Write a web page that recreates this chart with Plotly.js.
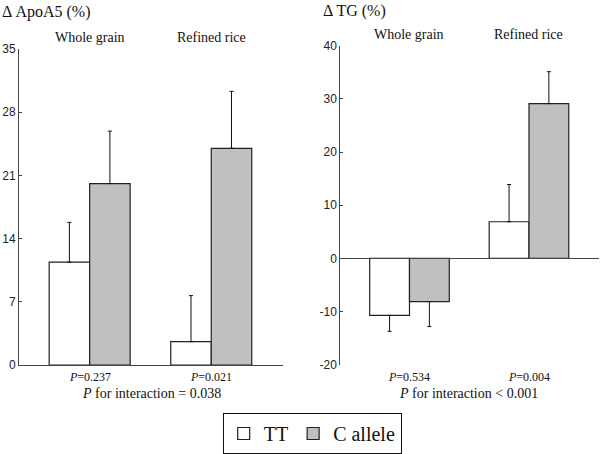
<!DOCTYPE html>
<html>
<head>
<meta charset="utf-8">
<script src="https://cdn.plot.ly/plotly-3.0.1.min.js"></script>
<style>
body { margin: 0; }
.fontwarm { position: absolute; left: -2000px; top: 0; font-size: 14px; }
</style>
</head>
<body>
<span class="fontwarm" style="font-family:'Liberation Serif'">Whole grain <i>P</i> Δ</span>
<span class="fontwarm" style="font-family:'Liberation Sans'">0123456789-</span>
<div id="chart"></div>
<script>
// ---- data ----
var groups = ["Whole grain", "Refined rice"];
var seriesNames = ["TT", "C allele"];
var apoTT = [11.4, 2.6];
var apoTTse = [4.4, 5.1];
var apoC = [20.1, 24.0];
var apoCse = [5.8, 6.3];
var tgTT = [-10.7, 6.9];
var tgTTse = [3.0, 7.0];
var tgC = [-8.1, 29.1];
var tgCse = [4.7, 6.0];
var apoP = ["<i>P</i>=0.237", "<i>P</i>=0.021"];
var tgP = ["<i>P</i>=0.534", "<i>P</i>=0.004"];
var apoInteraction = "<i>P</i> for interaction = 0.038";
var tgInteraction = "<i>P</i> for interaction < 0.001";
var apoTicks = [0, 7, 14, 21, 28, 35];
var tgTicks = [-20, -10, 0, 10, 20, 30, 40];

var FONT_TEXT = "Liberation Serif";
var FONT_TICK = "Liberation Sans";
var fills = ["#ffffff", "#c0c0c0"];

function errUp(vals, se) { return vals.map(function (v, i) { return v >= 0 ? se[i] : 0; }); }
function errDown(vals, se) { return vals.map(function (v, i) { return v < 0 ? se[i] : 0; }); }

function barTrace(vals, se, idx, xa, ya, showLegend) {
  return {
    type: "bar", x: groups, y: vals, name: seriesNames[idx],
    xaxis: xa, yaxis: ya, showlegend: showLegend,
    marker: { color: fills[idx], line: { color: "#222", width: 1.2 } },
    error_y: { type: "data", symmetric: false, array: errUp(vals, se), arrayminus: errDown(vals, se),
      color: "#111", thickness: 1, width: 2 },
    hoverinfo: "skip"
  };
}

var data = [
  barTrace(apoTT, apoTTse, 0, "x", "y", true),
  barTrace(apoC, apoCse, 1, "x", "y", true),
  barTrace(tgTT, tgTTse, 0, "x2", "y2", false),
  barTrace(tgC, tgCse, 1, "x2", "y2", false)
];

var axisCommon = { showgrid: false, zeroline: false, showline: true, linecolor: "#444", linewidth: 1 };

var annotations = [];
function addText(text, xref, x, y, size, xanchor) {
  annotations.push({ text: text, xref: xref, yref: "paper", x: x, y: y, showarrow: false,
    xanchor: xanchor || "center", yanchor: "middle", font: { family: FONT_TEXT, size: size, color: "#111" } });
}
addText("Δ ApoA5 (%)", "paper", 0.0, 1 - 12 / 454, 16, "left");
addText("Δ TG (%)", "paper", 320.5 / 600, 1 - 11 / 454, 16, "left");
groups.forEach(function (g, i) {
  addText(g, "x", g, 1 - 38 / 454, 14);
  addText(g, "x2", g, 1 - 35 / 454, 14);
  addText(apoP[i], "x", g, 1 - 378 / 454, 12);
  addText(tgP[i], "x2", g, 1 - 378 / 454, 12);
});
addText(apoInteraction, "paper", 151 / 600, 1 - 394 / 454, 14);
addText(tgInteraction, "paper", 468 / 600, 1 - 394 / 454, 14);

var layout = {
  width: 600, height: 454, autosize: false,
  margin: { l: 0, r: 0, t: 0, b: 0, pad: 0 },
  paper_bgcolor: "#fff", plot_bgcolor: "rgba(0,0,0,0)",
  font: { family: FONT_TEXT, size: 14, color: "#111" },
  barmode: "group", bargap: 0.334, bargroupgap: 0,
  xaxis: Object.assign({}, axisCommon, {
    domain: [19 / 600, 283 / 600], anchor: "y", type: "category", range: [-0.581, 1.59],
    tickmode: "array", tickvals: [1.59], ticktext: [""], ticks: "inside", ticklen: 5, tickcolor: "#444"
  }),
  yaxis: Object.assign({}, axisCommon, {
    domain: [(454 - 366) / 454, (454 - 49) / 454], anchor: "x", range: [0, 35],
    tickmode: "array", tickvals: apoTicks, ticktext: apoTicks.map(String), ticks: "inside", ticklen: 3, tickcolor: "#444",
    tickfont: { family: FONT_TICK, size: 12, color: "#222" }
  }),
  xaxis2: Object.assign({}, axisCommon, {
    domain: [340.3 / 600, 599 / 600], anchor: "free", position: (454 - 259) / 454, type: "category",
    range: [-0.579, 1.586],
    tickmode: "array", tickvals: [1.586], ticktext: [""], ticks: "inside", ticklen: 5, tickcolor: "#444"
  }),
  yaxis2: Object.assign({}, axisCommon, {
    domain: [(454 - 365.7) / 454, (454 - 45.7) / 454], anchor: "x2", range: [-20, 40],
    tickmode: "array", tickvals: tgTicks, ticktext: tgTicks.map(String), ticks: "inside", ticklen: 3, tickcolor: "#444",
    tickfont: { family: FONT_TICK, size: 12, color: "#222" }
  }),
  legend: {
    orientation: "h", x: 222.7 / 600, y: (454 - 414) / 454, xanchor: "left", yanchor: "top",
    bordercolor: "#111", borderwidth: 1, bgcolor: "#fff",
    font: { family: FONT_TEXT, size: 20, color: "#111" }, itemwidth: 30
  },
  annotations: annotations
};

Plotly.newPlot("chart", data, layout, { staticPlot: true, displayModeBar: false });
if (document.fonts && document.fonts.load) {
  Promise.all([
    document.fonts.load('14px "Liberation Serif"'),
    document.fonts.load('italic 14px "Liberation Serif"'),
    document.fonts.load('12px "Liberation Sans"')
  ]).then(function () { Plotly.redraw("chart"); }).catch(function () {});
}
</script>
</body>
</html>
